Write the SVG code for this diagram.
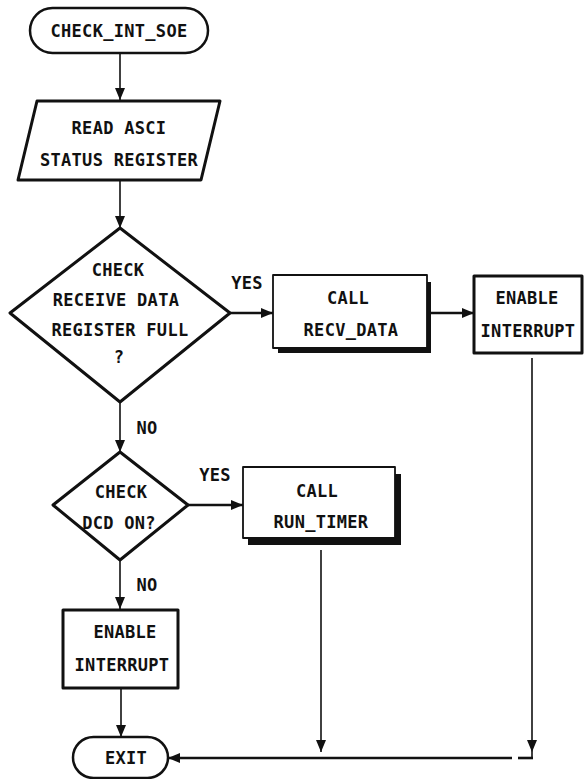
<svg xmlns="http://www.w3.org/2000/svg" width="585" height="779" viewBox="0 0 585 779">
  <style>
    .bg { fill: #ffffff; }
    .lbl { font-family: "DejaVu Sans Mono", "Liberation Mono", monospace; font-weight: bold; font-size: 17px; letter-spacing: 0.3px; fill: #111; text-anchor: middle; }
    .shape { fill: #ffffff; stroke: #111; stroke-linejoin: round; }
    .thick { stroke-width: 3; }
    .mid { stroke-width: 2.5; }
    .thin { stroke-width: 1.8; }
    .shadow { fill: #111; }
    .wire { fill: none; stroke: #111; stroke-width: 1.6; }
    .wire.heavy { stroke-width: 2.6; }
  </style>
  <defs>
    <marker id="arrow" viewBox="0 0 10 10" refX="10" refY="5" markerWidth="10" markerHeight="10" markerUnits="userSpaceOnUse" orient="auto">
      <path d="M0,0 L10,5 L0,10 Z" fill="#111"/>
    </marker>
    <marker id="arrowLong" viewBox="0 0 12 10" refX="12" refY="5" markerWidth="12" markerHeight="10" markerUnits="userSpaceOnUse" orient="auto">
      <path d="M0,0 L12,5 L0,10 Z" fill="#111"/>
    </marker>
  </defs>

  <rect class="bg" x="0" y="0" width="585" height="779"/>

  <!-- connectors -->
  <g id="connectors">
    <path class="wire" d="M120,53 V100" marker-end="url(#arrowLong)"/>
    <path class="wire" d="M120,180 V228" marker-end="url(#arrowLong)"/>
    <path class="wire heavy" d="M230,313 H273" marker-end="url(#arrowLong)"/>
    <path class="wire heavy" d="M431,313 H474" marker-end="url(#arrowLong)"/>
    <path class="wire" d="M120,402 V452" marker-end="url(#arrowLong)"/>
    <path class="wire heavy" d="M188,505 H243" marker-end="url(#arrowLong)"/>
    <path class="wire" d="M120,560 V609" marker-end="url(#arrowLong)"/>
    <path class="wire" d="M121,688 V737" marker-end="url(#arrowLong)"/>
    <path class="wire" d="M321,550 V752" marker-end="url(#arrowLong)"/>
    <path class="wire" d="M532,358 V752" marker-end="url(#arrowLong)"/>
    <path class="wire" d="M532,752 V758"/>
    <path class="wire heavy" d="M533,758 H518"/>
    <path class="wire heavy" d="M512,758 H168" marker-end="url(#arrowLong)"/>
    <text class="lbl" x="247" y="289">YES</text>
    <text class="lbl" x="147" y="434">NO</text>
    <text class="lbl" x="215" y="481">YES</text>
    <text class="lbl" x="147" y="591">NO</text>
  </g>

  <!-- entry terminal -->
  <g id="start">
    <rect class="shape mid" x="30" y="8" width="178" height="45" rx="22.5"/>
    <text class="lbl" x="119" y="37">CHECK_INT_SOE</text>
  </g>

  <!-- read status register (input) -->
  <g id="read-status">
    <polygon class="shape thick" points="37,101 220,101 201,180 18,180"/>
    <text class="lbl" x="119" y="134">READ ASCI</text>
    <text class="lbl" x="119" y="166">STATUS REGISTER</text>
  </g>

  <!-- receive data register full? -->
  <g id="check-rdrf">
    <polygon class="shape thick" points="120,228 230,313 120,402 10,313"/>
    <text class="lbl" x="118" y="276">CHECK</text>
    <text class="lbl" x="116" y="306">RECEIVE DATA</text>
    <text class="lbl" x="120" y="336">REGISTER FULL</text>
    <text class="lbl" x="119" y="363">?</text>
  </g>

  <!-- call recv_data -->
  <g id="call-recv">
    <rect class="shadow" x="278" y="282" width="153" height="71"/>
    <rect class="shape thin" x="273" y="275" width="154" height="73"/>
    <text class="lbl" x="348" y="304">CALL</text>
    <text class="lbl" x="351" y="336">RECV_DATA</text>
  </g>

  <!-- enable interrupt (after recv) -->
  <g id="enable-int-1">
    <rect class="shape thick" x="474" y="276" width="108" height="77"/>
    <text class="lbl" x="527" y="304">ENABLE</text>
    <text class="lbl" x="528" y="337">INTERRUPT</text>
  </g>

  <!-- DCD on? -->
  <g id="check-dcd">
    <polygon class="shape thick" points="120,452 188,505 120,560 53,505"/>
    <text class="lbl" x="121" y="498">CHECK</text>
    <text class="lbl" x="119" y="529">DCD ON?</text>
  </g>

  <!-- call run_timer -->
  <g id="call-timer">
    <rect class="shadow" x="248" y="474" width="153" height="71"/>
    <rect class="shape thin" x="243" y="467" width="152" height="71"/>
    <text class="lbl" x="317" y="497">CALL</text>
    <text class="lbl" x="321" y="528">RUN_TIMER</text>
  </g>

  <!-- enable interrupt (no DCD) -->
  <g id="enable-int-2">
    <rect class="shape thick" x="63" y="610" width="115" height="78"/>
    <text class="lbl" x="125" y="638">ENABLE</text>
    <text class="lbl" x="122" y="671">INTERRUPT</text>
  </g>

  <!-- exit terminal -->
  <g id="exit">
    <rect class="shape mid" x="73" y="737" width="95" height="41" rx="20.5"/>
    <text class="lbl" x="126" y="764">EXIT</text>
  </g>
</svg>
